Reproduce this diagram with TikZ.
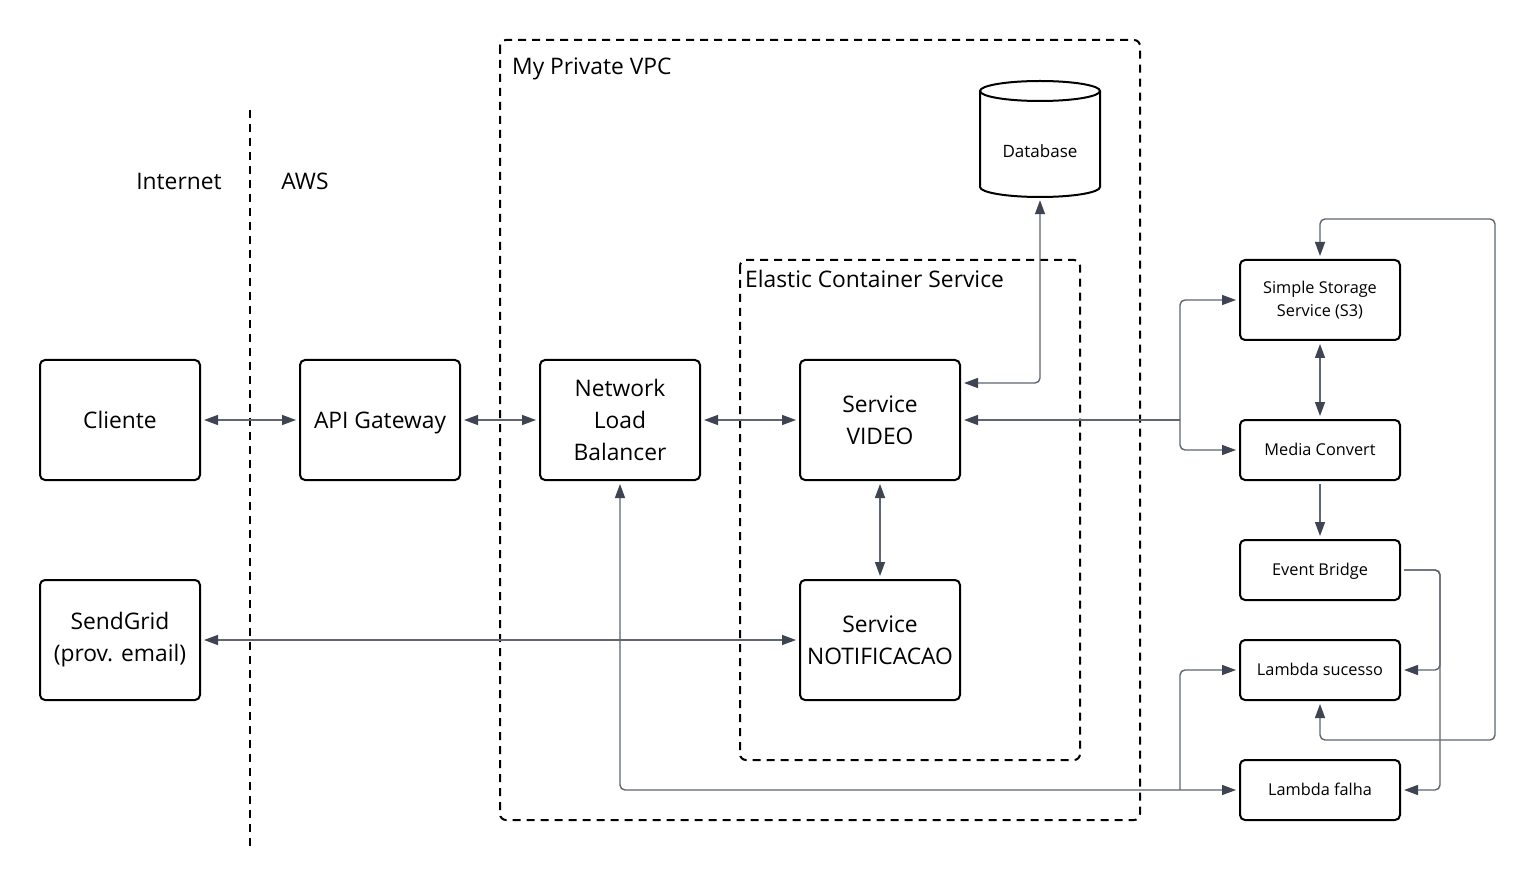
\documentclass[tikz,border=0pt]{standalone}
\usepackage{fontspec}
\setmainfont{Open Sans}
\usetikzlibrary{arrows.meta}
\definecolor{linec}{HTML}{5F6670}
\definecolor{headc}{HTML}{3E4451}
\newcommand{\bigfs}{\fontsize{22.8}{32}\selectfont}
\newcommand{\smallfs}{\fontsize{16.3}{23}\selectfont}
\tikzset{
  box/.style={draw=black, line width=2pt, rounded corners=5pt, fill=white,
    minimum width=160pt, minimum height=120pt, inner sep=0pt, align=center, font=\bigfs},
  one/.style={text height=16.3pt, text depth=0pt},
  sone/.style={text height=11.6pt, text depth=0pt},
  sbox/.style={box, minimum height=60pt, font=\smallfs},
  s3box/.style={box, minimum height=80pt, font=\smallfs},
  dbox/.style={draw=black, line width=2pt, dash pattern=on 8pt off 6pt, rounded corners=6pt},
  conn/.style={draw=linec, line width=1.4pt, rounded corners=5pt,
    arrows={-}, shorten >=3pt, shorten <=3pt},
  tip/.tip={Triangle[length=14pt,width=10pt,color=headc]},
  lbl/.style={font=\bigfs, inner sep=0pt}
}
\begin{document}
\begin{tikzpicture}[x=1pt,y=-1pt,>={tip}]
\useasboundingbox[fill=white] (0,0) rectangle (1536,890);

% frames
\draw[dbox] (500,40) rectangle (1140,820);
\draw[dbox] (740,260) rectangle (1080,760);
\draw[line width=2pt, dash pattern=on 8pt off 6pt] (250,110) -- (250,850);

\node[lbl, one, anchor=west] (vpc) at (512,66) {My Private VPC};
\node[lbl, one, anchor=west] (ecs) at (745,279) {Elastic Container Service};
\node[lbl, one] (inet) at (179,181) {Internet};
\node[lbl, one] (aws) at (305,181) {AWS};

% boxes
\node[box, one] (cli) at (120,420) {Cliente};
\node[box, one] (api) at (380,420) {API Gateway};
\node[box] (nlb) at (620,420) {Network\\Load\\Balancer};
\node[box] (vid) at (880,420) {Service\\VIDEO};
\node[box] (notif) at (880,640) {Service\\NOTIFICACAO};
\node[box] (sg) at (120,640) {SendGrid\\(prov. email)};

\node[s3box] (s3) at (1320,300) {Simple Storage\\Service (S3)};
\node[sbox, sone] (mc) at (1320,450) {Media Convert};
\node[sbox, sone] (eb) at (1320,570) {Event Bridge};
\node[sbox, sone] (ls) at (1320,670) {Lambda sucesso};
\node[sbox, sone] (lf) at (1320,790) {Lambda falha};

% database cylinder
\node[minimum width=120pt, minimum height=117pt, inner sep=0pt] (db) at (1040,138.5) {};
\node[font=\fontsize{17}{20}\selectfont, inner sep=0pt, sone] (dbt) at (1040,152) {Database};
\draw[line width=2pt] (1040,91) ellipse [x radius=60pt, y radius=10pt];
\draw[line width=2pt] (980,91) -- (980,187) arc[start angle=180, end angle=360, x radius=60pt, y radius=10pt] -- (1100,91);

% coordinates for junctions
\coordinate (j1) at (1180,420);
\coordinate (e1) at (1440,570);
\coordinate (n1) at (1180,790);

% connectors
\draw[conn,<->] (cli.east) -- (api.west);
\draw[conn,<->] (api.east) -- (nlb.west);
\draw[conn,<->] (nlb.east) -- (vid.west);
\draw[conn,<->] (vid.south) -- (notif.north);
\draw[conn,<->] (sg.east) -- (notif.west);
\draw[conn,<->] ([yshift=37pt]vid.east) -| (db.south);
\draw[conn,->,shorten <=0pt] (j1) -- (vid.east);
\draw[conn,->,shorten <=0pt] (j1) |- (s3.west);
\draw[conn,->,shorten <=0pt] (j1) |- (mc.west);
\draw[conn,<->] (s3.south) -- (mc.north);
\draw[conn,->] (mc.south) -- (eb.north);
\draw[conn,->] (eb.east) -- (e1) |- (ls.east);
\draw[conn,->] (eb.east) -- (e1) |- (lf.east);
\draw[conn,<->] (s3.north) -- ++(0,-40) -| (1495,740) -| (ls.south);
\draw[conn,<->] (nlb.south) |- (lf.west);
\draw[conn,->,shorten <=0pt] (n1) |- (ls.west);
\end{tikzpicture}
\end{document}
